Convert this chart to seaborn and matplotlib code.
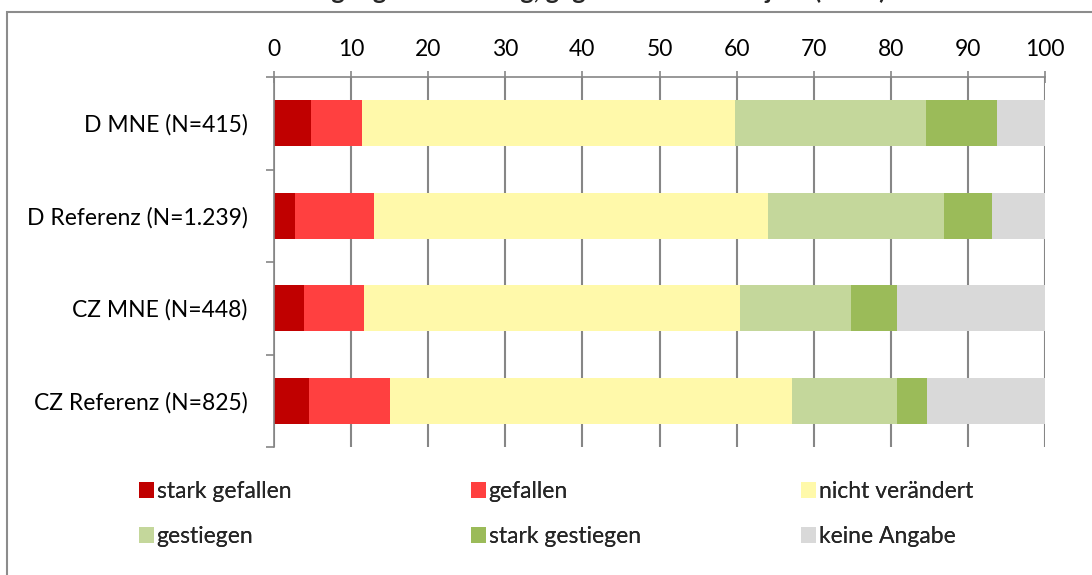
import matplotlib
matplotlib.use("Agg")
import matplotlib.pyplot as plt
from matplotlib.patches import Patch, Rectangle
import pandas as pd
import seaborn as sns

# Daten (Anteile in %)
gruppen = ["D MNE (N=415)", "D Referenz (N=1.239)", "CZ MNE (N=448)", "CZ Referenz (N=825)"]
kategorien = ["stark gefallen", "gefallen", "nicht verändert", "gestiegen", "stark gestiegen", "keine Angabe"]
stark_gefallen = [4.8, 2.7, 3.9, 4.5]
gefallen = [6.6, 10.3, 7.8, 10.5]
nicht_veraendert = [48.4, 51.1, 48.8, 52.2]
gestiegen = [24.8, 22.8, 14.3, 13.6]
stark_gestiegen = [9.2, 6.2, 6.0, 3.9]
keine_angabe = [6.2, 6.9, 19.2, 15.3]
x_ticks = [0, 10, 20, 30, 40, 50, 60, 70, 80, 90, 100]
titel = "Beschäftigungsentwicklung, gegenüber dem Vorjahr (2009)"

farben = ["#C00000", "#FF4040", "#FFF9AA", "#C4D79B", "#9BBB59", "#D9D9D9"]
grau = "#868686"

sns.set_theme(style="white")
plt.rcParams["font.family"] = ["Lato", "DejaVu Sans"]

df = pd.DataFrame({
    "stark gefallen": stark_gefallen,
    "gefallen": gefallen,
    "nicht verändert": nicht_veraendert,
    "gestiegen": gestiegen,
    "stark gestiegen": stark_gestiegen,
    "keine Angabe": keine_angabe,
}, index=gruppen)
kum = df.cumsum(axis=1)

fig = plt.figure(figsize=(10.92, 5.75), dpi=100)
ax = fig.add_axes([274 / 1092, 1 - 447 / 575, (1045 - 274) / 1092, (447 - 77) / 575])

# gestapelt: kumulierte Summen, von hinten nach vorne zeichnen
for kat, farbe in reversed(list(zip(kategorien, farben))):
    sns.barplot(x=kum[kat].values, y=gruppen, orient="h", color=farbe, saturation=1,
                width=0.5, edgecolor="none", linewidth=0, ax=ax)

ax.set_xlim(0, 100)
ax.set_ylim(3.5, -0.5)
ax.set_xlabel("")
ax.set_ylabel("")
ax.set_axisbelow(True)

ax.xaxis.tick_top()
ax.set_xticks(x_ticks)
ax.tick_params(axis="x", direction="inout", length=8.6, width=1.2, color=grau,
               pad=8, labelsize=16.5, labelcolor="black")
ax.xaxis.grid(True, color=grau, linewidth=1.5)
ax.yaxis.grid(False)

ax.set_yticks([-0.5, 0.5, 1.5, 2.5, 3.5], minor=True)
ax.tick_params(axis="y", which="major", length=0, pad=19, labelsize=16.5, labelcolor="black")
ax.tick_params(axis="y", which="minor", direction="out", length=6, width=1.2, color=grau, left=True)

for s in ["right", "bottom"]:
    ax.spines[s].set_visible(False)
for s in ["top", "left"]:
    ax.spines[s].set_color(grau)
    ax.spines[s].set_linewidth(1.2)

# Legende in drei Spalten
handles = [Patch(facecolor=f, edgecolor="none") for f in farben]
spalten_x = [139, 471, 801]
for i, sx in enumerate(spalten_x):
    leg = fig.legend([handles[i], handles[i + 3]], [kategorien[i], kategorien[i + 3]],
                     loc="upper left", bbox_to_anchor=(sx / 1092, 1 - 481 / 575),
                     frameon=False, fontsize=16.5, handlelength=0.65, handleheight=0.65,
                     handletextpad=0.12, labelspacing=1.05, borderpad=0, borderaxespad=0)
    fig.add_artist(leg)

# Rahmen und abgeschnittener Titel (im Original oben abgeschnitten)
fig.add_artist(Rectangle((7 / 1092, -0.1), 1.2, 1.1 - 12 / 575, transform=fig.transFigure,
                         fill=False, edgecolor="#8C8C8C", linewidth=1.5))
fig.text(0.51, 1 + 1.5 / 575, titel, ha="center", va="baseline", fontsize=18, fontweight="bold")

fig.savefig("out.png", dpi=100)
